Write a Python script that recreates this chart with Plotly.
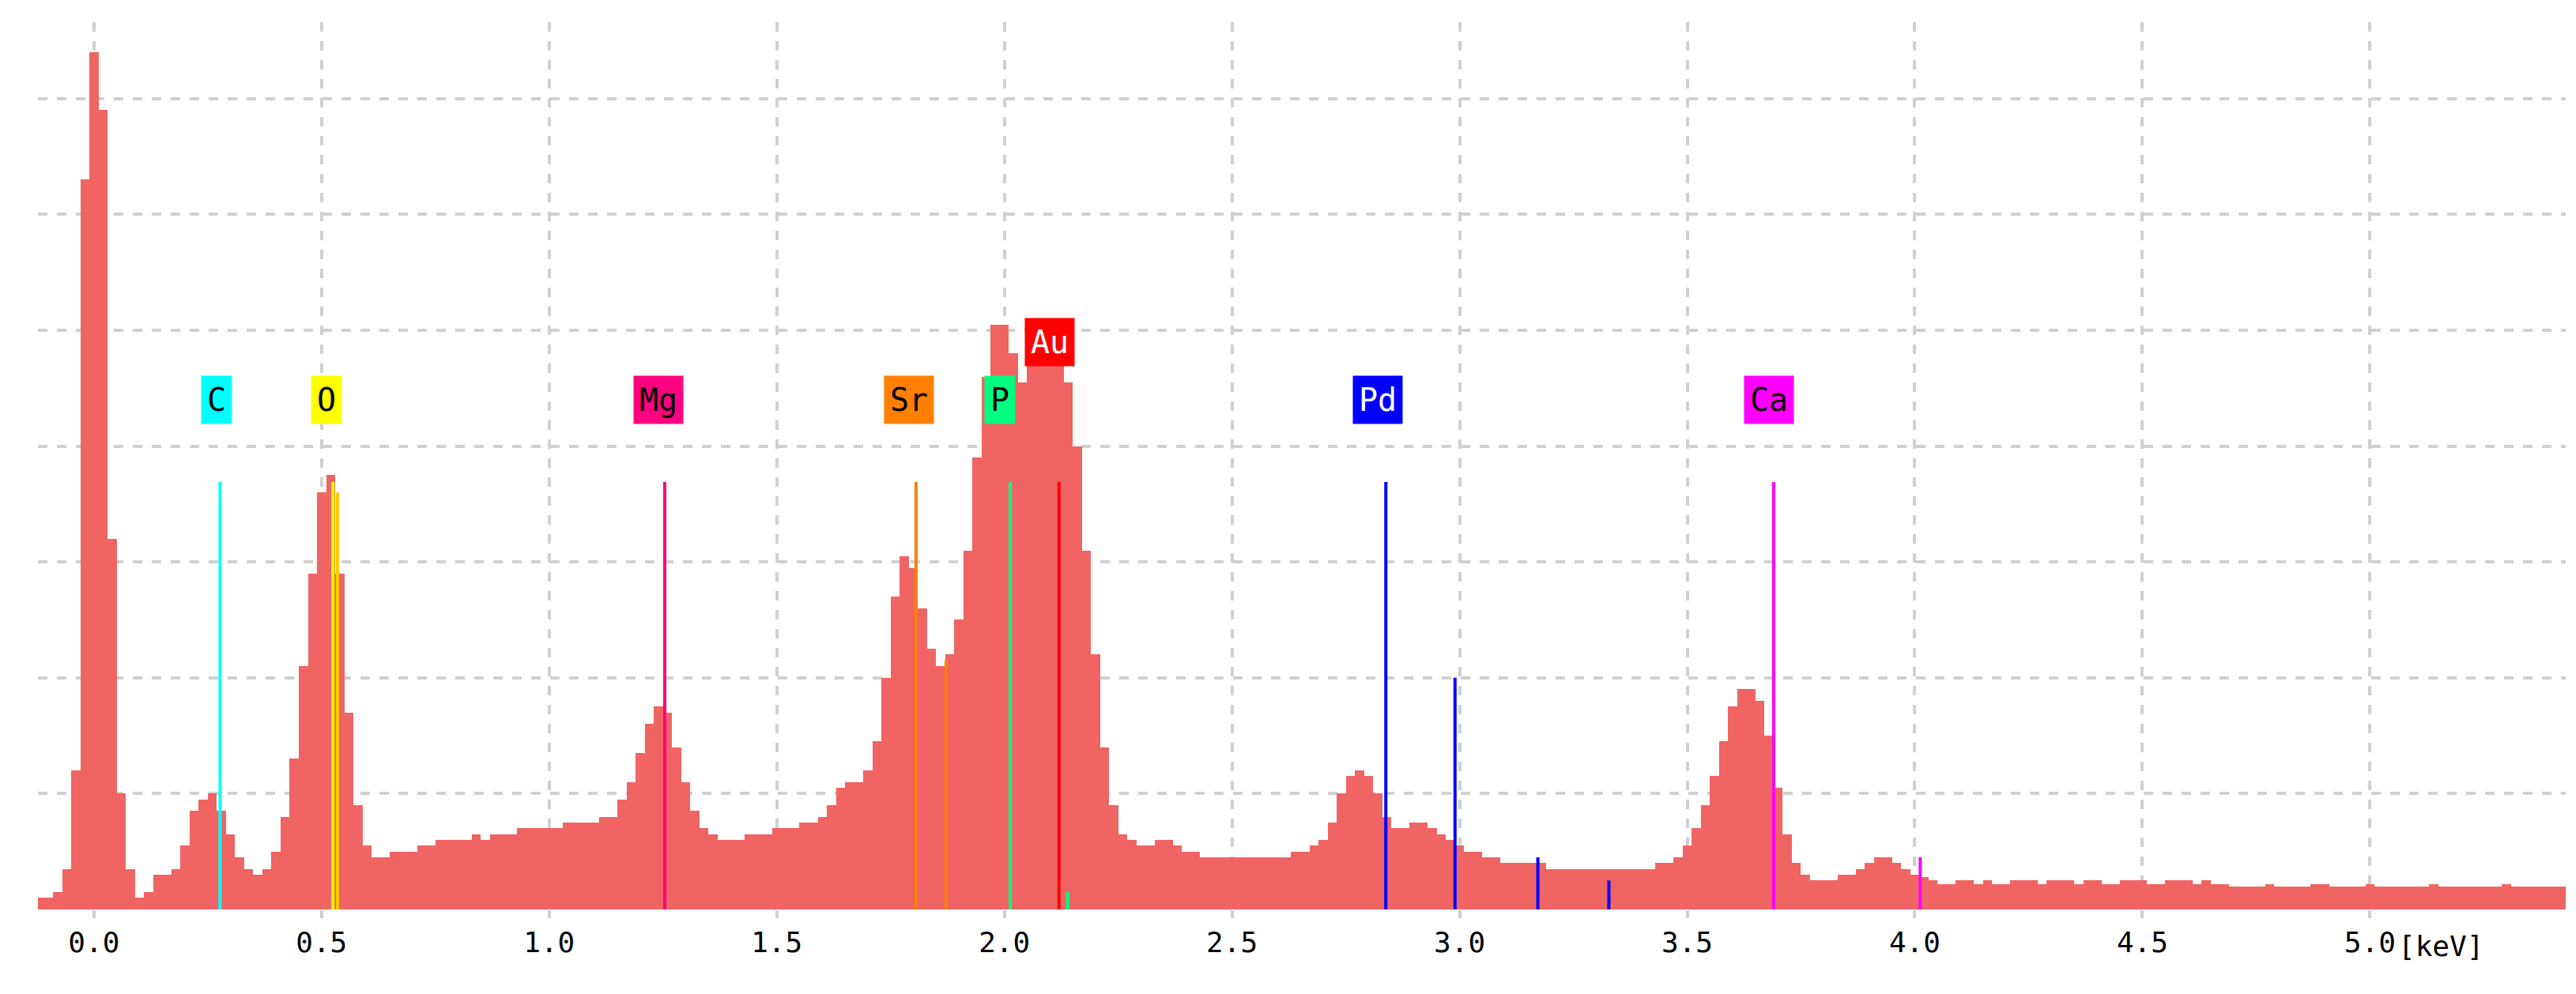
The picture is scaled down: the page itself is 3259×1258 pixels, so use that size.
import plotly.graph_objects as go

start_kev = -0.12
step_kev = 0.02
counts = [
 0.1, 0.1, 0.15, 0.35, 1.2,
 6.3, 7.4, 6.9, 3.2, 1.0,
 0.35, 0.1, 0.15, 0.3, 0.3,
 0.35, 0.55, 0.85, 0.95, 1.0,
 0.85, 0.65, 0.45, 0.35, 0.3,
 0.35, 0.5, 0.8, 1.3, 2.1,
 2.9, 3.6, 3.75, 2.9, 1.7,
 0.9, 0.55, 0.45, 0.45, 0.5,
 0.5, 0.5, 0.55, 0.55, 0.6,
 0.6, 0.6, 0.6, 0.65, 0.6,
 0.65, 0.65, 0.65, 0.7, 0.7,
 0.7, 0.7, 0.7, 0.75, 0.75,
 0.75, 0.75, 0.8, 0.8, 0.95,
 1.1, 1.35, 1.6, 1.75, 1.7,
 1.4, 1.1, 0.85, 0.7, 0.65,
 0.6, 0.6, 0.6, 0.65, 0.65,
 0.65, 0.7, 0.7, 0.7, 0.75,
 0.75, 0.8, 0.9, 1.05, 1.1,
 1.1, 1.2, 1.45, 2.0, 2.7,
 3.05, 2.95, 2.6, 2.25, 2.1,
 2.2, 2.5, 3.1, 3.9, 4.6,
 5.05, 5.05, 4.8, 4.55, 4.7,
 4.95, 5.0, 4.85, 4.55, 4.0,
 3.1, 2.2, 1.4, 0.9, 0.65,
 0.6, 0.55, 0.55, 0.6, 0.6,
 0.55, 0.5, 0.5, 0.45, 0.45,
 0.45, 0.45, 0.45, 0.45, 0.45,
 0.45, 0.45, 0.45, 0.5, 0.5,
 0.55, 0.6, 0.75, 1.0, 1.15,
 1.2, 1.15, 1.0, 0.8, 0.7,
 0.7, 0.75, 0.75, 0.7, 0.65,
 0.6, 0.55, 0.5, 0.5, 0.45,
 0.45, 0.4, 0.4, 0.4, 0.4,
 0.4, 0.35, 0.35, 0.35, 0.35,
 0.35, 0.35, 0.35, 0.35, 0.35,
 0.35, 0.35, 0.35, 0.4, 0.4,
 0.45, 0.55, 0.7, 0.9, 1.15,
 1.45, 1.75, 1.9, 1.9, 1.8,
 1.5, 1.05, 0.65, 0.4, 0.3,
 0.25, 0.25, 0.25, 0.3, 0.3,
 0.35, 0.4, 0.45, 0.45, 0.4,
 0.35, 0.3, 0.28, 0.25, 0.22,
 0.22, 0.25, 0.25, 0.22, 0.25, 0.22, 0.22, 0.25, 0.25, 0.25,
 0.22, 0.25, 0.25, 0.25, 0.22, 0.25, 0.25, 0.22, 0.22, 0.25,
 0.25, 0.25, 0.22, 0.22, 0.25, 0.25, 0.25, 0.22, 0.25, 0.22,
 0.22, 0.2, 0.2, 0.2, 0.2, 0.22, 0.2, 0.2, 0.2, 0.2,
 0.22, 0.22, 0.2, 0.2, 0.2, 0.2, 0.22, 0.2, 0.2, 0.2,
 0.2, 0.2, 0.2, 0.22, 0.2, 0.2, 0.2, 0.2, 0.2, 0.2,
 0.2, 0.22, 0.2, 0.2, 0.2, 0.2, 0.2, 0.2,
]
energies = [round(start_kev + i * step_kev, 3) for i in range(len(counts))]

line_energy = [0.277, 0.525, 0.535, 1.254, 1.806, 1.872, 2.013, 2.139, 2.120, 2.838, 2.990, 3.172, 3.328, 3.690, 4.012]
line_height = [3.69, 3.69, 3.6, 3.69, 3.69, 2.15, 3.69, 0.15, 3.69, 3.69, 2.0, 0.45, 0.25, 3.69, 0.45]
line_color = ["#00ffff", "#ffff00", "#ffcc00", "#ff0080", "#ff8000", "#ff8000", "#00ff80", "#00ff80",
              "#ff0000", "#0000ff", "#0000ff", "#0000ff", "#0000ff", "#ff00ff", "#ff00ff"]

label_text = ["C", "O", "Mg", "Sr", "P", "Au", "Pd", "Ca"]
label_x = [0.27, 0.51, 1.24, 1.79, 1.99, 2.10, 2.82, 3.68]
label_y = [4.4, 4.4, 4.4, 4.4, 4.4, 4.9, 4.4, 4.4]
label_bg = ["#00ffff", "#ffff00", "#ff0080", "#ff8000", "#00ff80", "#ff0000", "#0000ff", "#ff00ff"]
label_fg = ["#000000", "#000000", "#000000", "#000000", "#000000", "#ffffff", "#ffffff", "#000000"]

tick_vals = [0, 0.5, 1.0, 1.5, 2.0, 2.5, 3.0, 3.5, 4.0, 4.5, 5.0]
tick_text = ["0.0", "0.5", "1.0", "1.5", "2.0", "2.5", "3.0", "3.5", "4.0", "4.5", "5.0"]

fig = go.Figure()
fig.add_trace(go.Bar(x=energies, y=counts, width=step_kev, marker=dict(color="#f06464", line=dict(width=0)),
                     hoverinfo="x+y"))
for e, h, c in zip(line_energy, line_height, line_color):
    fig.add_trace(go.Scatter(x=[e, e], y=[0, h], mode="lines", line=dict(color=c, width=4), hoverinfo="skip"))
for t, x, y, bg, fg in zip(label_text, label_x, label_y, label_bg, label_fg):
    fig.add_annotation(x=x, y=y, text=t, showarrow=False, bgcolor=bg,
                       font=dict(family="DejaVu Sans Mono", size=40, color=fg), borderpad=7)
fig.add_annotation(x=5.0, y=0, xref="x", yref="y", text="[keV]", showarrow=False, xanchor="left",
                   xshift=34, yshift=-46, yanchor="middle",
                   font=dict(family="DejaVu Sans Mono", size=36, color="#000000"))

fig.update_layout(
    width=3259, height=1258, showlegend=False, bargap=0,
    plot_bgcolor="white", paper_bgcolor="white",
    margin=dict(l=40, r=21, t=20, b=115),
    xaxis=dict(range=[-0.123, 5.43], tickvals=tick_vals, ticktext=tick_text,
               showgrid=True, gridcolor="#d0d0d0", griddash="dash", gridwidth=4,
               ticks="outside", ticklen=10, tickwidth=4, tickcolor="#d0d0d0",
               tickfont=dict(family="DejaVu Sans Mono", size=36, color="#000000"),
               zeroline=False, showline=False),
    yaxis=dict(range=[0, 7.66], dtick=1, showticklabels=False, showgrid=True,
               gridcolor="#d0d0d0", griddash="dash", gridwidth=4, zeroline=False, showline=False),
)
fig.write_html("out.html")
